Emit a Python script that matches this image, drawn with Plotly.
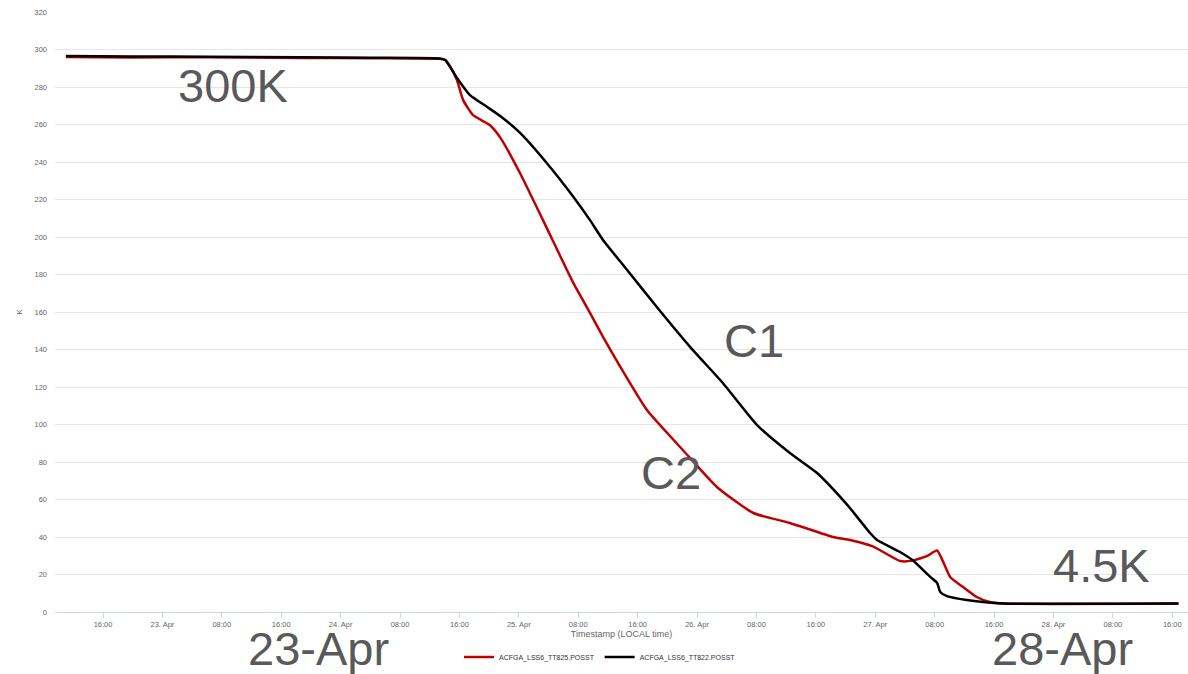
import plotly.graph_objects as go

# ---- data ----
tt825_time = [
    "2019-04-22 11:00", "2019-04-22 20:00", "2019-04-23 06:00", "2019-04-23 18:30",
    "2019-04-24 04:00", "2019-04-24 13:20", "2019-04-24 14:05", "2019-04-24 14:45",
    "2019-04-24 15:40", "2019-04-24 16:30", "2019-04-24 17:50", "2019-04-24 20:05",
    "2019-04-24 21:30", "2019-04-25 00:10", "2019-04-25 03:15", "2019-04-25 04:35",
    "2019-04-25 07:20", "2019-04-25 09:35", "2019-04-25 11:20", "2019-04-25 13:40",
    "2019-04-25 17:15", "2019-04-25 22:05", "2019-04-26 02:40", "2019-04-26 07:35",
    "2019-04-26 12:30", "2019-04-26 18:20", "2019-04-26 20:35", "2019-04-26 23:40",
    "2019-04-27 03:20", "2019-04-27 05:00", "2019-04-27 07:00", "2019-04-27 08:20",
    "2019-04-27 10:05", "2019-04-27 11:50", "2019-04-27 13:40", "2019-04-27 15:25",
    "2019-04-27 17:15", "2019-04-28 16:50",
]
tt825_value = [
    296.0, 295.8, 295.9, 295.5,
    295.3, 295.0, 294.4, 291.0,
    283.7, 273.0, 265.0, 259.7,
    253.0, 234.0, 209.0, 198.0,
    175.5, 159.5, 146.7, 130.7,
    107.7, 86.4, 66.7, 52.8,
    47.5, 40.0, 38.4, 35.0,
    27.2, 27.4, 29.9, 32.8,
    18.7, 13.3, 8.0, 5.3,
    4.5, 4.5,
]

tt822_time = [
    "2019-04-22 11:00", "2019-04-22 20:00", "2019-04-23 06:00", "2019-04-23 18:30",
    "2019-04-24 04:00", "2019-04-24 13:20", "2019-04-24 14:05", "2019-04-24 15:40",
    "2019-04-24 17:25", "2019-04-24 19:45", "2019-04-24 21:50", "2019-04-25 00:10",
    "2019-04-25 03:45", "2019-04-25 07:20", "2019-04-25 09:35", "2019-04-25 11:20",
    "2019-04-25 14:35", "2019-04-25 18:35", "2019-04-25 23:05", "2019-04-26 03:30",
    "2019-04-26 08:05", "2019-04-26 12:30", "2019-04-26 16:10", "2019-04-26 19:40",
    "2019-04-26 20:35", "2019-04-26 23:20", "2019-04-27 00:15", "2019-04-27 03:20",
    "2019-04-27 05:00", "2019-04-27 07:25", "2019-04-27 08:20", "2019-04-27 08:45",
    "2019-04-27 09:40", "2019-04-27 12:20", "2019-04-27 14:30", "2019-04-27 17:15",
    "2019-04-28 16:50",
]
tt822_value = [
    296.6, 296.3, 296.2, 295.9,
    295.6, 295.2, 294.4, 284.8,
    275.7, 269.3, 263.5, 255.5,
    239.5, 221.5, 209.0, 198.4,
    182.4, 162.7, 141.3, 122.0,
    99.7, 84.8, 74.1, 59.7,
    55.5, 42.0, 38.4, 32.0,
    27.7, 18.7, 15.5, 10.7,
    8.5, 6.4, 5.3, 4.5,
    4.5,
]

series_names = ["ACFGA_LSS6_TT825.POSST", "ACFGA_LSS6_TT822.POSST"]

tick_times = [
    "2019-04-22 16:00", "2019-04-23 00:00", "2019-04-23 08:00", "2019-04-23 16:00",
    "2019-04-24 00:00", "2019-04-24 08:00", "2019-04-24 16:00", "2019-04-25 00:00",
    "2019-04-25 08:00", "2019-04-25 16:00", "2019-04-26 00:00", "2019-04-26 08:00",
    "2019-04-26 16:00", "2019-04-27 00:00", "2019-04-27 08:00", "2019-04-27 16:00",
    "2019-04-28 00:00", "2019-04-28 08:00", "2019-04-28 16:00",
]
tick_labels = [
    "16:00", "23. Apr", "08:00", "16:00", "24. Apr", "08:00", "16:00", "25. Apr",
    "08:00", "16:00", "26. Apr", "08:00", "16:00", "27. Apr", "08:00", "16:00",
    "28. Apr", "08:00", "16:00",
]

# ---- layout geometry ----
W, H = 1188, 674
L, R, T, B = 55, 0, 12, 62
PW, PH = W - L - R, H - T - B


def px(x):
    return (x - L) / PW


def py(y):
    return (H - B - y) / PH


fig = go.Figure()
fig.add_trace(go.Scatter(
    x=tt825_time, y=tt825_value, mode="lines", name=series_names[0],
    line=dict(color="#c00000", width=2.5, shape="spline", smoothing=0.5),
))
fig.add_trace(go.Scatter(
    x=tt822_time, y=tt822_value, mode="lines", name=series_names[1],
    line=dict(color="#000000", width=2.5, shape="spline", smoothing=0.5),
))

big = dict(family="Liberation Sans, Arial, sans-serif", size=47, color="#595959")
labels = [
    ("300K", 233, 85.5),
    ("C1", 754, 340.5),
    ("C2", 671, 472.5),
    ("4.5K", 1101, 565.5),
    ("23-Apr", 318, 648.5),
    ("28-Apr", 1062, 648.5),
]
for text, x, y in labels:
    fig.add_annotation(
        text=text, xref="paper", yref="paper", x=px(x), y=py(y),
        xanchor="center", yanchor="middle", showarrow=False, font=big,
    )

fig.update_layout(
    width=W, height=H, autosize=False,
    margin=dict(l=L, r=R, t=T, b=B, pad=0),
    paper_bgcolor="white", plot_bgcolor="white",
    font=dict(family="Liberation Sans, Arial, sans-serif", color="#666666"),
    showlegend=True,
    legend=dict(
        orientation="h", xanchor="center", yanchor="middle",
        x=px(600), y=py(657), font=dict(size=7, color="#333333"),
        itemwidth=30, bgcolor="rgba(0,0,0,0)",
    ),
    xaxis=dict(
        type="date",
        range=["2019-04-22 09:32", "2019-04-28 18:07"],
        tickmode="array", tickvals=tick_times, ticktext=tick_labels,
        ticks="outside", ticklen=5, tickcolor="#ccd6eb", tickwidth=1,
        showline=True, linecolor="#ccd6eb", linewidth=1,
        showgrid=False, zeroline=False,
        tickfont=dict(size=7.5, color="#666666"),
        title=dict(text="Timestamp (LOCAL time)", font=dict(size=9, color="#666666"), standoff=2),
    ),
    yaxis=dict(
        range=[0, 320], dtick=20, tick0=0,
        showgrid=True, gridcolor="#e6e6e6", gridwidth=1,
        zeroline=False, showline=False, ticks="",
        tickfont=dict(size=7.5, color="#666666"),
        ticklabelstandoff=7,
        title=dict(text="K", font=dict(size=8, color="#666666"), standoff=10),
    ),
)

fig.write_html("out.html")
